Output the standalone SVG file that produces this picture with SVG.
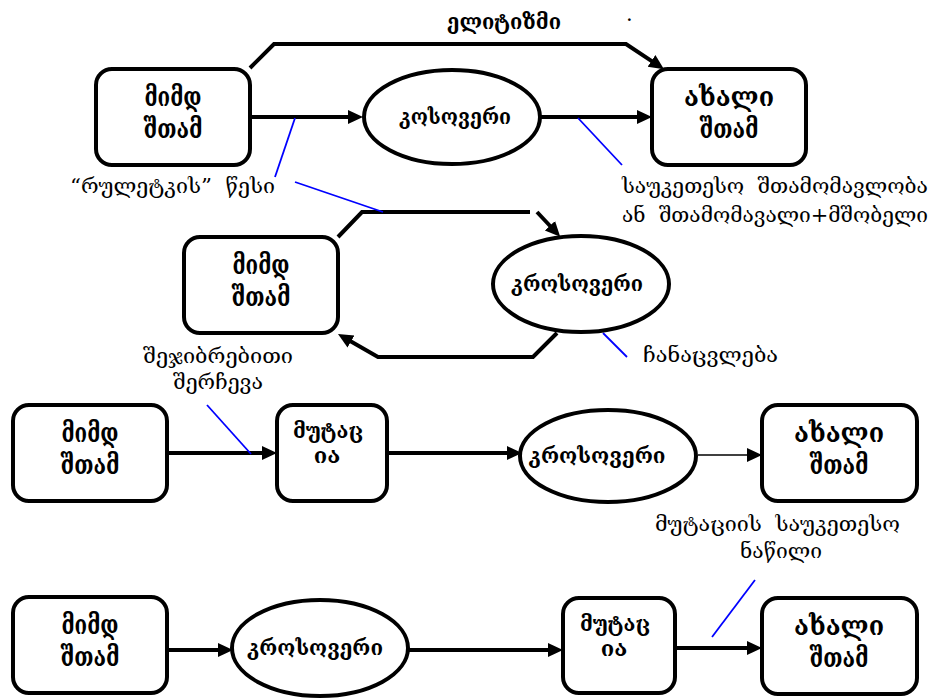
<svg xmlns="http://www.w3.org/2000/svg" width="936" height="698" viewBox="0 0 936 698">
  <style>
    .box { fill: #fff; stroke: #000; stroke-width: 4; }
    .ell { fill: #fff; stroke: #000; stroke-width: 4; }
    .edge { fill: none; stroke: #000; stroke-width: 4; }
    .thin { fill: none; stroke: #000; stroke-width: 1.5; }
    .note { fill: none; stroke: #0000ff; stroke-width: 1.8; }
    text { font-family: "DejaVu Serif", "DejaVu Sans", serif; fill: #000; }
    .nt { font-size: 26px; font-weight: bold; text-anchor: middle; }
    .et { font-size: 21px; font-weight: bold; text-anchor: middle; }
    .mt { font-size: 22px; font-weight: bold; text-anchor: middle; }
    .lb { font-size: 21px; }
  </style>
  <defs>
    <marker id="ah" markerUnits="userSpaceOnUse" markerWidth="16" markerHeight="16" refX="3" refY="7" orient="auto">
      <path d="M0,0 L15,7 L0,14 z" fill="#000"/>
    </marker>
  </defs>

  <!-- connectors -->
  <g id="connectors">
    <!-- row 1 -->
    <line class="edge" x1="252" y1="117" x2="351" y2="117" marker-end="url(#ah)"/>
    <line class="edge" x1="541" y1="117" x2="640" y2="117" marker-end="url(#ah)"/>
    <path class="edge" d="M250,68 L274,44 L626,44 L654,62.6" marker-end="url(#ah)"/>
    <!-- row 2 loop -->
    <path class="edge" d="M338,237 L362,212 L530,212"/>
    <path class="edge" d="M537,212 L552,228" marker-end="url(#ah)"/>
    <path class="edge" d="M557,333 L533,357 L378,357 L348.4,340" marker-end="url(#ah)"/>
    <!-- row 3 -->
    <line class="edge" x1="168" y1="453" x2="265" y2="453" marker-end="url(#ah)"/>
    <line class="edge" x1="388" y1="453" x2="510" y2="453" marker-end="url(#ah)"/>
    <line class="thin" x1="698" y1="455" x2="750" y2="455" marker-end="url(#ah)"/>
    <!-- row 4 -->
    <line class="edge" x1="167" y1="650" x2="221" y2="650" marker-end="url(#ah)"/>
    <line class="edge" x1="407" y1="650" x2="551" y2="650" marker-end="url(#ah)"/>
    <line class="edge" x1="675" y1="648" x2="750" y2="648" marker-end="url(#ah)"/>
  </g>

  <!-- annotation pointers -->
  <g id="pointers">
    <line class="note" x1="295" y1="118" x2="275" y2="177"/>
    <line class="note" x1="578" y1="118" x2="622" y2="165"/>
    <line class="note" x1="295" y1="182" x2="383" y2="212"/>
    <line class="note" x1="603" y1="333" x2="627" y2="357"/>
    <line class="note" x1="207" y1="405" x2="251" y2="454"/>
    <line class="note" x1="712" y1="637" x2="755" y2="580"/>
  </g>

  <!-- row 1 nodes -->
  <g id="parents1">
    <rect class="box" x="96" y="69" width="154" height="96" rx="16"/>
    <text class="nt" x="173" y="106" textLength="57" lengthAdjust="spacingAndGlyphs">მიმდ</text>
    <text class="nt" x="173" y="138" textLength="59" lengthAdjust="spacingAndGlyphs">შთამ</text>
  </g>
  <g id="crossover1">
    <ellipse class="ell" cx="452" cy="117" rx="88" ry="47"/>
    <text class="et" x="455" y="124" textLength="112" lengthAdjust="spacingAndGlyphs">კოსოვერი</text>
  </g>
  <g id="offspring1">
    <rect class="box" x="652" y="69" width="154" height="96" rx="16"/>
    <text class="nt" x="729" y="106" textLength="90" lengthAdjust="spacingAndGlyphs">ახალი</text>
    <text class="nt" x="729" y="138" textLength="59" lengthAdjust="spacingAndGlyphs">შთამ</text>
  </g>

  <!-- row 2 nodes -->
  <g id="parents2">
    <rect class="box" x="184" y="237" width="154" height="96" rx="16"/>
    <text class="nt" x="261" y="274" textLength="57" lengthAdjust="spacingAndGlyphs">მიმდ</text>
    <text class="nt" x="261" y="306" textLength="59" lengthAdjust="spacingAndGlyphs">შთამ</text>
  </g>
  <g id="crossover2">
    <ellipse class="ell" cx="581" cy="284" rx="88" ry="48"/>
    <text class="et" x="577" y="291" textLength="132" lengthAdjust="spacingAndGlyphs">კროსოვერი</text>
  </g>

  <!-- row 3 nodes -->
  <g id="parents3">
    <rect class="box" x="13" y="405" width="154" height="96" rx="16"/>
    <text class="nt" x="90" y="442" textLength="57" lengthAdjust="spacingAndGlyphs">მიმდ</text>
    <text class="nt" x="90" y="474" textLength="59" lengthAdjust="spacingAndGlyphs">შთამ</text>
  </g>
  <g id="mutation3">
    <rect class="box" x="277" y="405" width="110" height="96" rx="16"/>
    <text class="mt" x="328" y="438" textLength="70" lengthAdjust="spacingAndGlyphs">მუტაც</text>
    <text class="mt" x="327" y="463">ია</text>
  </g>
  <g id="crossover3">
    <ellipse class="ell" cx="608" cy="456" rx="88" ry="46"/>
    <text class="et" x="597" y="463" textLength="137" lengthAdjust="spacingAndGlyphs">კროსოვერი</text>
  </g>
  <g id="offspring3">
    <rect class="box" x="762" y="405" width="155" height="96" rx="16"/>
    <text class="nt" x="839" y="442" textLength="90" lengthAdjust="spacingAndGlyphs">ახალი</text>
    <text class="nt" x="839" y="474" textLength="59" lengthAdjust="spacingAndGlyphs">შთამ</text>
  </g>

  <!-- row 4 nodes -->
  <g id="parents4">
    <rect class="box" x="13" y="597" width="154" height="96" rx="16"/>
    <text class="nt" x="90" y="634" textLength="57" lengthAdjust="spacingAndGlyphs">მიმდ</text>
    <text class="nt" x="90" y="666" textLength="59" lengthAdjust="spacingAndGlyphs">შთამ</text>
  </g>
  <g id="crossover4">
    <ellipse class="ell" cx="320" cy="648" rx="88" ry="48"/>
    <text class="et" x="315" y="655" textLength="136" lengthAdjust="spacingAndGlyphs">კროსოვერი</text>
  </g>
  <g id="mutation4">
    <rect class="box" x="563" y="598" width="112" height="95" rx="16"/>
    <text class="mt" x="615" y="631" textLength="70" lengthAdjust="spacingAndGlyphs">მუტაც</text>
    <text class="mt" x="614" y="656">ია</text>
  </g>
  <g id="offspring4">
    <rect class="box" x="762" y="598" width="155" height="96" rx="16"/>
    <text class="nt" x="839" y="635" textLength="90" lengthAdjust="spacingAndGlyphs">ახალი</text>
    <text class="nt" x="839" y="667" textLength="59" lengthAdjust="spacingAndGlyphs">შთამ</text>
  </g>

  <!-- labels -->
  <g id="labels">
    <text class="et" x="504" y="29" textLength="114" lengthAdjust="spacingAndGlyphs">ელიტიზმი</text>
    <text class="lb" x="626" y="21">.</text>
    <text class="lb" x="70" y="193" textLength="205" lengthAdjust="spacingAndGlyphs" xml:space="preserve">“რულეტკის”  წესი</text>
    <text class="lb" x="622" y="193" textLength="306" lengthAdjust="spacingAndGlyphs" xml:space="preserve">საუკეთესო  შთამომავლობა</text>
    <text class="lb" x="622" y="222" textLength="306" lengthAdjust="spacingAndGlyphs" xml:space="preserve">ან  შთამომავალი+მშობელი</text>
    <text class="lb" x="643" y="362" textLength="135" lengthAdjust="spacingAndGlyphs">ჩანაცვლება</text>
    <text class="lb" x="143" y="363" textLength="150" lengthAdjust="spacingAndGlyphs">შეჯიბრებითი</text>
    <text class="lb" x="173" y="389" textLength="90" lengthAdjust="spacingAndGlyphs">შერჩევა</text>
    <text class="lb" x="655" y="531" textLength="245" lengthAdjust="spacingAndGlyphs" xml:space="preserve">მუტაციის  საუკეთესო</text>
    <text class="lb" x="740" y="558" textLength="82" lengthAdjust="spacingAndGlyphs">ნაწილი</text>
  </g>
</svg>
